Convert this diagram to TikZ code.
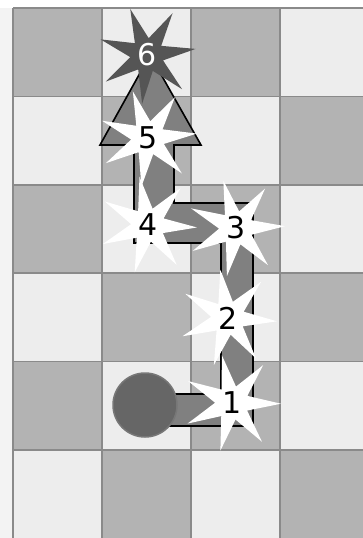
\documentclass[tikz,border=0pt]{standalone}
\usepackage{fontspec}
\setmainfont{DejaVu Sans}
\usetikzlibrary{shapes.geometric}
\definecolor{celldark}{HTML}{B3B3B3}
\definecolor{celllight}{HTML}{EDEDED}
\definecolor{gridgray}{HTML}{8A8A8A}
\definecolor{trackgray}{HTML}{808080}
\definecolor{tokengray}{HTML}{666666}
\definecolor{tokenrim}{HTML}{777777}
\definecolor{stardark}{HTML}{555555}
\definecolor{leftstrip}{HTML}{F3F3F3}
\tikzset{
  gridline/.style={draw=gridgray, line width=1.6pt},
  trackband/.style={fill=trackgray, draw=black, line width=1.6pt, line join=miter},
  token/.style={circle, fill=tokengray, draw=tokenrim, line width=1.5pt, minimum size=64pt, inner sep=0pt},
  starmark/.style={star, star points=7, star point ratio=2.9, minimum size=98pt, inner sep=0pt, fill=white, text=black, font=\fontsize{30}{30}\selectfont},
  laststar/.style={starmark, fill=stardark, text=white}
}
\begin{document}
\begin{tikzpicture}[x=1pt, y=-1pt]
\useasboundingbox (0,0) rectangle (363,538);
\fill[white] (0,0) rectangle (363,538);
\fill[leftstrip] (0,8) rectangle (13,538);
% board
\begin{scope}
\clip (0,0) rectangle (363,538);
\foreach \r in {0,...,5}
  \foreach \c in {0,...,3} {
    \pgfmathtruncatemacro\parity{mod(\r+\c,2)}
    \ifnum\parity=0 \def\cellcol{celldark}\else\def\cellcol{celllight}\fi
    \fill[\cellcol] (13+89*\c,8+88.4*\r) rectangle ++(89,88.4);
  }
\foreach \c in {0,...,4} \draw[gridline] (13+89*\c,8) -- (13+89*\c,545);
\foreach \r in {0,...,6} \draw[gridline] (13,8+88.4*\r) -- (370,8+88.4*\r);
\end{scope}
% track with arrow head
\draw[trackband] (150,426) -- (253,426) -- (253,203) -- (174,203) -- (174,145) -- (201,145)
  -- (150,55) -- (100,145) -- (134,145) -- (134,243) -- (221,243) -- (221,394) -- (150,394) -- cycle;
\node[token] (start) at (145,405) {};
% numbered stars
\node[starmark, shape border rotate=12] (s1) at (232,403) {1};
\node[starmark, shape border rotate=9] (s2) at (228,318) {2};
\node[starmark, shape border rotate=15] (s3) at (236,228) {3};
\node[starmark, shape border rotate=10] (s4) at (148,225) {4};
\node[starmark, shape border rotate=18] (s5) at (148,138) {5};
\node[laststar, shape border rotate=20] (s6) at (147,55) {6};
\end{tikzpicture}
\end{document}
